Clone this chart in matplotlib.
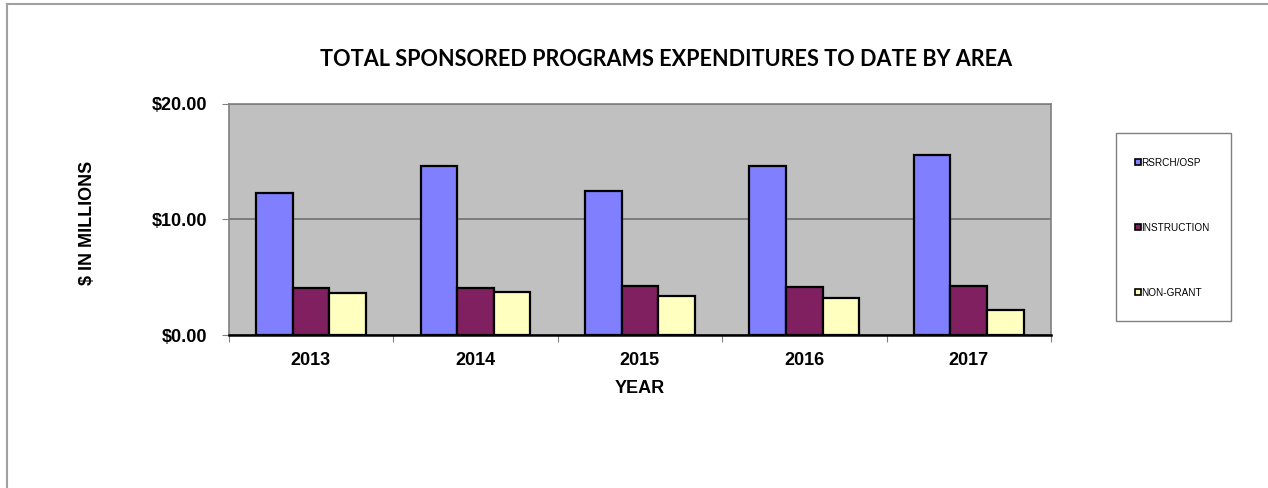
import numpy as np
import matplotlib.pyplot as plt
from matplotlib.patches import Rectangle
from matplotlib.lines import Line2D

years = ["2013", "2014", "2015", "2016", "2017"]
rsrch = [12.27, 14.60, 12.47, 14.60, 15.54]
instruction = [4.05, 4.05, 4.22, 4.14, 4.22]
non_grant = [3.62, 3.70, 3.33, 3.16, 2.16]
series_names = ["RSRCH/OSP", "INSTRUCTION", "NON-GRANT"]
colors = ["#8080FF", "#802060", "#FFFFC0"]

W, H = 1268, 488
fig = plt.figure(figsize=(W / 100, H / 100), dpi=100)
plt.rcParams['font.family'] = ['Liberation Sans', 'DejaVu Sans']

# plot area in pixels
x0, x1, y0, y1 = 228.7, 1051, 103.7, 335
ax = fig.add_axes([x0 / W, 1 - y1 / H, (x1 - x0) / W, (y1 - y0) / H])
ax.set_facecolor("#C0C0C0")

x = np.arange(len(years))
bw = 1 / 4.5
bars = []
for i, vals in enumerate([rsrch, instruction, non_grant]):
    b = ax.bar(x + (i - 1) * bw, vals, bw, color=colors[i], edgecolor="black",
               linewidth=1.6, label=series_names[i], zorder=3)
    bars.append(b)

ax.set_xlim(-0.5, len(years) - 0.5)
ax.set_ylim(0, 20)
ax.set_yticks([0, 10, 20])
ax.set_yticklabels(["$0.00", "$10.00", "$20.00"], fontsize=13, fontweight="bold")
ax.yaxis.grid(True, color="#707070", linewidth=1.2, zorder=1)
ax.set_axisbelow(True)

# category ticks between groups, labels at centres
ax.set_xticks(np.arange(-0.5, len(years), 1))
ax.set_xticklabels([])
ax.set_xticks(x, minor=True)
ax.set_xticklabels(years, minor=True, fontsize=13, fontweight="bold")
ax.tick_params(axis="x", which="minor", length=0, pad=12)
ax.tick_params(axis="x", which="major", length=5, color="#808080", direction="out")
ax.tick_params(axis="y", length=5, color="#808080", pad=10.5)

for s in ["top", "right", "left"]:
    ax.spines[s].set_color("#808080")
    ax.spines[s].set_linewidth(1.2)
ax.spines["bottom"].set_color("black")
ax.spines["bottom"].set_linewidth(1.8)
ax.spines["bottom"].set_zorder(4)

ax.set_xlabel("YEAR", fontsize=13, fontweight="bold", labelpad=8)
fig.text(87 / W, 1 - 223 / H, "$ IN MILLIONS", rotation=90, fontsize=13,
         fontweight="bold", ha="center", va="center")

fig.text(666 / W, 1 - 60 / H, "TOTAL SPONSORED PROGRAMS EXPENDITURES TO DATE BY AREA",
         fontsize=15.6, fontweight="bold", ha="center", va="center",
         family=["Lato", "DejaVu Sans"])

# legend box
lx0, lx1, ly0, ly1 = 1116, 1231, 133, 321
fig.patches.append(Rectangle((lx0 / W, 1 - ly1 / H), (lx1 - lx0) / W, (ly1 - ly0) / H,
                             transform=fig.transFigure, facecolor="white",
                             edgecolor="#808080", linewidth=1.0))
leg = fig.legend(handles=bars, labels=series_names, loc="center left",
                 bbox_to_anchor=(1130 / W, 1 - 228 / H), frameon=False,
                 fontsize=7.2, handlelength=0.55, handleheight=0.55,
                 handletextpad=0.1, labelspacing=5.5, borderpad=0)
for h in leg.legend_handles:
    h.set_linewidth(1.2)

# outer chart border (top and left only visible)
fig.add_artist(Line2D([7 / W, 1], [1 - 4 / H, 1 - 4 / H], transform=fig.transFigure,
                      color="#a0a0a0", linewidth=1.5))
fig.add_artist(Line2D([7 / W, 7 / W], [0, 1 - 4 / H], transform=fig.transFigure,
                      color="#a0a0a0", linewidth=1.5))

fig.savefig("out.png", dpi=100)
